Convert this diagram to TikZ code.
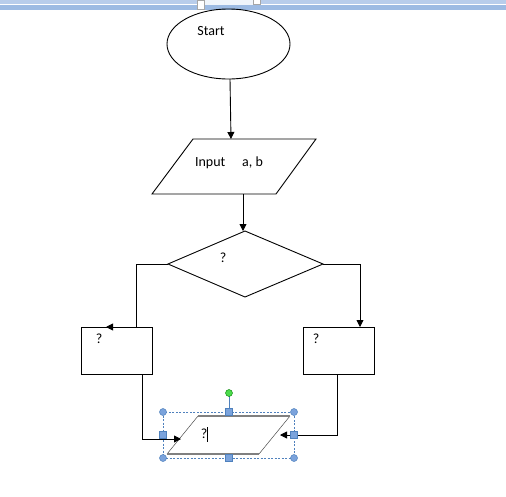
\documentclass[tikz,border=0pt]{standalone}
\usepackage{fontspec}
\setmainfont{Carlito}
\usetikzlibrary{arrows.meta,shapes.geometric}
\definecolor{barblue}{HTML}{9DBBE3}
\definecolor{barlight}{HTML}{B8CDEB}
\definecolor{selblue}{HTML}{4F81BD}
\definecolor{handle}{HTML}{7BA3DC}
\begin{document}
\begin{tikzpicture}[x=1pt,y=-1pt,
  line/.style={line width=0.9pt,black},
  arr/.style={line,-{Triangle[length=7pt,width=7pt]}},
  lbl/.style={font=\fontsize{14}{16}\selectfont,inner sep=0pt},
  box/.style={draw,line width=0.9pt,black},
  circhandle/.style={circle,fill=handle,draw=selblue,line width=0.5pt,minimum size=7pt,inner sep=0pt},
  sqhandle/.style={rectangle,fill=handle,draw=selblue,line width=0.5pt,minimum size=7pt,inner sep=0pt}]
\useasboundingbox (0,0) rectangle (506,496);
\fill[white] (0,0) rectangle (506,496);
% top ribbon bar
\fill[barlight] (0,0) rectangle (506,3.5);
\fill[barblue] (0,4.5) rectangle (506,10);
\fill[white!85!barblue] (204,0) rectangle (253,4.5);
\draw[fill=white,draw=gray!70] (197,0) rectangle (204,9);
\draw[fill=white,draw=gray!70] (253,-1) rectangle (260,4);
% start
\draw[box] (228.5,44) ellipse [x radius=61.5,y radius=35];
\coordinate (startb) at (230,79);
\node[lbl] (starttxt) at (211,31) {Start};
% input parallelogram
\draw[box] (193,139) -- (316,139) -- (276,194) -- (152,194) -- cycle;
\coordinate (int) at (231,139);
\coordinate (inb) at (243,194);
\node[lbl] (intxt) at (229,163) {Input\hspace{1.2em}a, b};
% decision diamond
\draw[box] (245,231) -- (323,264) -- (245,297) -- (168,264) -- cycle;
\coordinate (dt) at (243,231);
\coordinate (dl) at (168,264);
\coordinate (dr) at (323,264);
\node[lbl] (dtxt) at (223,258) {?};
% left and right boxes
\draw[box] (81,327) rectangle (152,374);
\node[lbl] (ltxt) at (99,339) {?};
\draw[box] (303,327) rectangle (374,374);
\node[lbl] (rtxt) at (316,339) {?};
% bottom parallelogram (selected)
\draw[line width=0.5pt,black!70] (198,416) -- (167,454);
\draw[line width=0.5pt,black!70] (290,416) -- (259,454);
\draw[line width=1.5pt,gray] (198,416) -- (290,416);
\draw[line width=1.5pt,gray] (167,454) -- (259,454);
\node[lbl] (btxt) at (204,434) {?};
\draw[line width=1.3pt] (207.5,427) -- (207.5,442);
% connectors
\draw[arr] (startb) -- (int);
\draw[arr] (inb) -- (dt);
\draw[arr] (dl) -- (136,264) -- (136,327) -- (106,327);
\draw[arr] (dr) -- (360,264) -- (360,327);
\draw[arr] (142,374) -- (142,439) -- (181,439);
\draw[arr] (337,374) -- (337,435) -- (280,435);
% selection frame
\draw[selblue,dashed,line width=0.5pt,dash pattern=on 2pt off 1.5pt] (163,412) rectangle (294,458);
\draw[selblue,line width=0.6pt] (229,393) -- (229,412);
\node[circle,fill=green!80!black!70,draw=green!50!black,line width=0.4pt,minimum size=7pt,inner sep=0pt] (rot) at (229,393) {};
\foreach \p in {(163,412),(294,412),(163,458),(294,458)} \node[circhandle] at \p {};
\foreach \p in {(163,435),(294,435),(229,412),(229,458)} \node[sqhandle] at \p {};
\end{tikzpicture}
\end{document}
